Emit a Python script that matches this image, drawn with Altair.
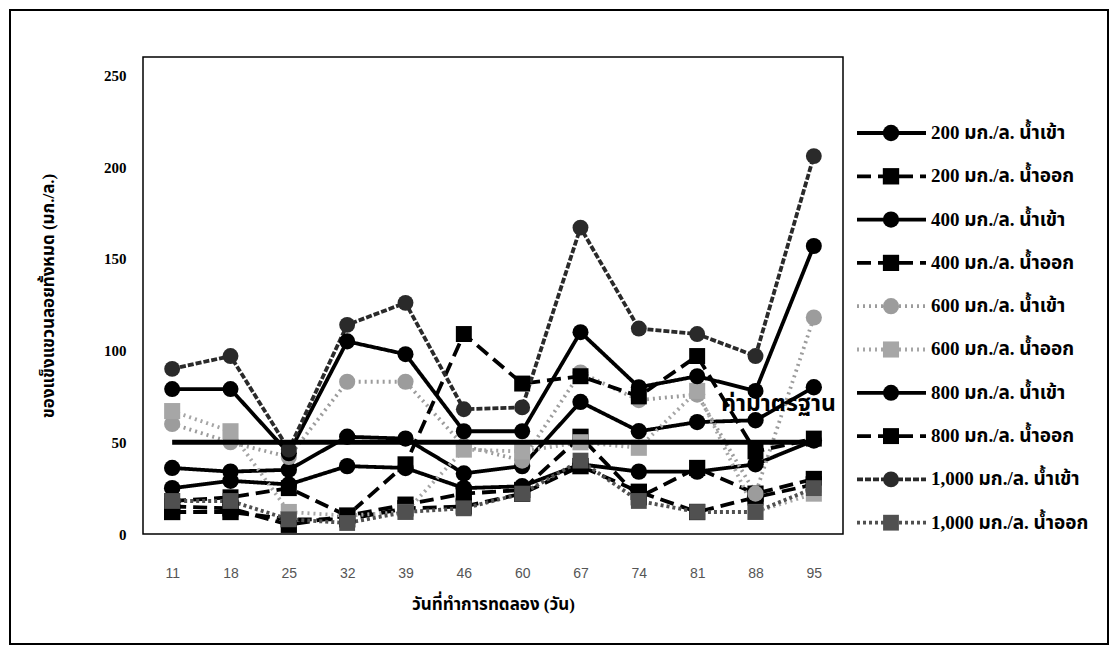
import altair as alt
import pandas as pd

days = ["11", "18", "25", "32", "39", "46", "60", "67", "74", "81", "88", "95"]

series_names = [
    "200 มก./ล. น้ำเข้า", "200 มก./ล. น้ำออก",
    "400 มก./ล. น้ำเข้า", "400 มก./ล. น้ำออก",
    "600 มก./ล. น้ำเข้า", "600 มก./ล. น้ำออก",
    "800 มก./ล. น้ำเข้า", "800 มก./ล. น้ำออก",
    "1,000 มก./ล. น้ำเข้า", "1,000 มก./ล. น้ำออก",
]

s200_in = [25, 29, 27, 37, 36, 25, 26, 38, 34, 34, 38, 51]
s200_out = [12, 12, 8, 8, 14, 15, 22, 37, 23, 12, 20, 27]
s400_in = [36, 34, 35, 53, 52, 33, 37, 72, 56, 61, 62, 80]
s400_out = [15, 14, 5, 10, 16, 22, 24, 53, 20, 36, 22, 30]
s600_in = [60, 50, 42, 83, 83, 48, 40, 88, 73, 76, 22, 118]
s600_out = [67, 56, 12, 10, 12, 46, 45, 50, 47, 78, 12, 22]
s800_in = [79, 79, 44, 105, 98, 56, 56, 110, 80, 86, 78, 157]
s800_out = [18, 20, 25, 10, 38, 109, 82, 86, 75, 97, 45, 52]
s1000_in = [90, 97, 46, 114, 126, 68, 69, 167, 112, 109, 97, 206]
s1000_out = [18, 18, 8, 6, 12, 14, 22, 40, 18, 12, 12, 25]

standard_values = [50, 50, 50, 50, 50, 50, 50, 50, 50, 50, 50, 50]
standard_label = ["ค่ามาตรฐาน"]
standard_label_value = [71]

all_series = [s200_in, s200_out, s400_in, s400_out, s600_in, s600_out,
              s800_in, s800_out, s1000_in, s1000_out]

colors = ["#000000", "#000000", "#000000", "#000000", "#9c9c9c", "#a6a6a6",
          "#000000", "#000000", "#2a2a2a", "#505050"]
dashes = [[1, 0], [14, 7], [1, 0], [14, 7], [2, 4], [2, 4],
          [1, 0], [14, 7], [6, 2], [3, 3]]
widths = [3.8, 3.8, 3.8, 3.8, 1.5, 1.5, 3.8, 3.8, 2.5, 2.0]
shapes = ["circle", "square", "circle", "square", "circle", "square",
          "circle", "square", "circle", "square"]
sizes = [270, 250, 270, 250, 210, 210, 270, 250, 230, 230]

rows = []
for name, vals in zip(series_names, all_series):
    for d, v in zip(days, vals):
        rows.append({"day": d, "value": v, "series": name})
df = pd.DataFrame(rows)

std_df = pd.DataFrame({"day": days, "value": standard_values})
lab_df = pd.DataFrame({"day": ["95"], "value": standard_label_value, "label": standard_label})
leg_df = pd.DataFrame({"series": series_names, "li": list(range(len(series_names)))})
frame_df = pd.DataFrame({"k": [0]})

THAI = "Liberation Serif, Noto Sans Thai, Loma, Garuda, Norasi, sans-serif"

color_scale = alt.Scale(domain=series_names, range=colors)
dash_scale = alt.Scale(domain=series_names, range=dashes)
width_scale = alt.Scale(domain=series_names, range=widths)
shape_scale = alt.Scale(domain=series_names, range=shapes)
size_scale = alt.Scale(domain=series_names, range=sizes)

x_enc = alt.X(
    "day:O", sort=days,
    axis=alt.Axis(
        title="วันที่ทำการทดลอง (วัน)", labelAngle=0, ticks=False, domain=False,
        labelFont="Liberation Sans Narrow, Liberation Sans, sans-serif",
        labelFontSize=14, labelColor="#555555", labelPadding=32,
        titleFont=THAI, titleFontSize=17, titleFontWeight="bold",
        titlePadding=16, titleColor="#000000",
    ),
)
y_enc = alt.Y(
    "value:Q", scale=alt.Scale(domain=[0, 250]),
    axis=alt.Axis(
        title="ของแข็งแขวนลอยทั้งหมด (มก./ล.)", values=[0, 50, 100, 150, 200, 250],
        grid=False, ticks=False, domain=False,
        labelFont="Liberation Serif", labelFontWeight="bold", labelFontSize=15,
        labelColor="#000000", labelPadding=17,
        titleFont=THAI, titleFontSize=17, titleFontWeight="bold",
        titlePadding=46, titleColor="#000000",
    ),
)

base = alt.Chart(df)

lines = base.mark_line().encode(
    x=x_enc, y=y_enc,
    color=alt.Color("series:N", scale=color_scale, legend=None),
    strokeDash=alt.StrokeDash("series:N", scale=dash_scale, legend=None),
    strokeWidth=alt.StrokeWidth("series:N", scale=width_scale, legend=None),
    detail="series:N",
)
points = base.mark_point(filled=True, opacity=1).encode(
    x=x_enc, y=y_enc,
    color=alt.Color("series:N", scale=color_scale, legend=None),
    shape=alt.Shape("series:N", scale=shape_scale, legend=None),
    size=alt.Size("series:N", scale=size_scale, legend=None),
)
standard = alt.Chart(std_df).mark_line(color="black", strokeWidth=5).encode(
    x=alt.X("day:O", sort=days), y=alt.Y("value:Q"),
)
std_text = alt.Chart(lab_df).mark_text(
    align="right", baseline="middle", dx=22, fontSize=23, fontWeight="bold",
    font=THAI, color="black",
).encode(x=alt.X("day:O", sort=days), y=alt.Y("value:Q"), text="label:N")

frame = alt.Chart(frame_df).mark_rect(
    fill=None, stroke="black", strokeWidth=2, fillOpacity=0
).encode(
    x=alt.value(-133), x2=alt.value(965), y=alt.value(-47), y2=alt.value(587),
)

main = alt.layer(lines, points, standard, std_text, frame)

leg_y = alt.Y("li:Q", scale=alt.Scale(domain=[-1.755, 9.261], reverse=True), axis=None)
leg_base = alt.Chart(leg_df)
leg_lines = leg_base.mark_rule().encode(
    x=alt.value(714), x2=alt.value(783), y=leg_y,
    color=alt.Color("series:N", scale=color_scale, legend=None),
    strokeDash=alt.StrokeDash("series:N", scale=dash_scale, legend=None),
    strokeWidth=alt.StrokeWidth("series:N", scale=width_scale, legend=None),
)
leg_points = leg_base.mark_point(filled=True, opacity=1).encode(
    x=alt.value(748), y=leg_y,
    color=alt.Color("series:N", scale=color_scale, legend=None),
    shape=alt.Shape("series:N", scale=shape_scale, legend=None),
    size=alt.Size("series:N", scale=size_scale, legend=None),
)
leg_text = leg_base.mark_text(
    align="left", baseline="middle", fontSize=19, fontWeight="bold",
    font=THAI, color="black",
).encode(x=alt.value(788), y=leg_y, text="series:N")

legend = alt.layer(leg_lines, leg_points, leg_text)

chart = alt.layer(main, legend).resolve_scale(y="independent").properties(
    width=700, height=477,
    autosize=alt.AutoSizeParams(type="none"),
    padding={"left": 135, "top": 49, "right": 267, "bottom": 111},
    background="white",
).configure_view(stroke="black", strokeWidth=1.5)

chart.save("out.html", embed_options={"renderer": "svg", "actions": False})
